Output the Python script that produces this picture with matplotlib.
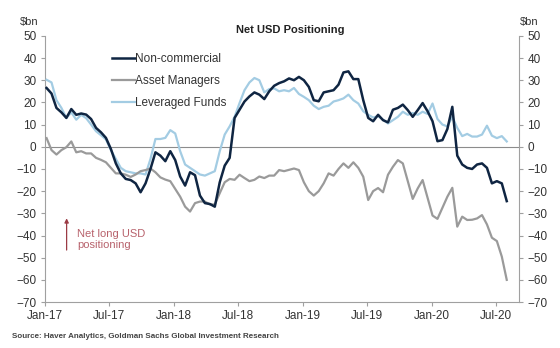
import matplotlib
matplotlib.use('Agg')
import matplotlib.pyplot as plt
import matplotlib.dates as mdates
import pandas as pd

plt.rcParams['font.family'] = ['Liberation Sans', 'DejaVu Sans']

# biweekly observations, Jan 2017 - Jul 2020 ($bn)
dates = pd.date_range('2017-01-06', periods=94, freq='14D')

non_commercial = [
    26.5, 24, 17.5, 15.5, 13, 17, 14.4, 15, 14.5, 12.5,
    8.5, 6.5, 4, -1, -7.5, -12, -14.5, -15, -16.5, -20.5,
    -16.5, -10, -2.5, -4, -6.5, -2, -6, -13.4, -17.5, -11.5,
    -12.8, -22, -25.4, -25.8, -27, -16, -8.5, -5, 13, 16.7,
    20.4, 22.7, 24.5, 23.5, 21.5, 25, 27.5, 28.7, 29.5, 30.8,
    30, 31.5, 30, 27, 21, 20.5, 24.5, 25, 25.5, 28,
    33.5, 34, 30.5, 30.5, 21, 13, 11.5, 14.4, 12, 11,
    16.7, 17.5, 19, 16.5, 13.5, 16.5, 19.7, 16, 11.5, 2.5,
    3, 8, 18, -4, -8, -9.5, -10, -8, -7.5, -9.5,
    -16.5, -15.5, -16.5, -24.5,
]

asset_managers = [
    3.9, -1.5, -3.5, -1.5, -0.2, 2.4, -2.5, -2, -3, -3,
    -5, -5.9, -7, -9.5, -12, -12, -12.6, -13.6, -12.5, -11,
    -10.5, -9.8, -11.5, -13.8, -14.8, -15.5, -19, -22.5, -27, -29.2,
    -25.4, -24.7, -24.7, -26, -26, -20.9, -16, -14.5, -14.9, -12.6,
    -14.1, -15.5, -14.9, -13.4, -14.1, -13, -13, -10.5, -11, -10.4,
    -9.8, -10.5, -16, -20, -22, -20, -16.5, -12, -13, -10,
    -7.5, -9.5, -7, -9.5, -13.5, -24, -20, -18.6, -20.5, -12.6,
    -9, -6, -7.5, -15.5, -23.5, -18.8, -15, -23, -31, -32.5,
    -27.5, -22.5, -18.5, -36, -31.5, -33, -32.9, -32.3, -30.8, -35,
    -41, -42.5, -49.5, -60,
]

leveraged_funds = [
    30.2, 29, 21, 17.5, 13, 15.5, 12.2, 14.4, 12.9, 10,
    7, 5.2, 3.3, -1.5, -5.5, -9.5, -11, -11.5, -12, -12,
    -12.5, -5.5, 3.5, 3.5, 4, 7.5, 6, -2, -8, -9.5,
    -11, -12.5, -13, -12, -11, -2, 5.5, 9.2, 13.5, 19.7,
    25.5, 29, 31, 30, 24.5, 26, 26.3, 25, 25.5, 25,
    26.5, 23.8, 22.5, 21, 18.5, 17, 18, 18.5, 20.4, 21,
    21.8, 23.5, 21, 19.5, 16, 14.4, 13.2, 13.8, 12.2, 10.5,
    12, 13.5, 15.8, 14.4, 15.2, 14.4, 15.8, 14.8, 19.5, 12.5,
    10, 9.2, 13.5, 8.5, 4.8, 5.8, 4.6, 4.6, 5.5, 9.5,
    5, 3.9, 4.8, 2.4,
]

fig = plt.figure(figsize=(5.6, 3.48), dpi=100)
ax = fig.add_axes([0.080, 0.132, 0.847, 0.765])

ax.plot(dates, leveraged_funds, color='#a3cce3', linewidth=1.6, label='Leveraged Funds', zorder=3)
ax.plot(dates, asset_managers, color='#9a9a9a', linewidth=1.6, label='Asset Managers', zorder=3)
ax.plot(dates, non_commercial, color='#0f2542', linewidth=1.8, label='Non-commercial', zorder=4)
ax.axhline(0, color='#8c8c8c', linewidth=0.8, zorder=1)

ax.set_xlim(pd.Timestamp('2017-01-01'), pd.Timestamp('2020-09-04'))
ax.set_ylim(-70, 50)
ax.set_yticks(range(-70, 51, 10))
ax.xaxis.set_major_locator(mdates.MonthLocator(bymonth=[1, 7]))
ax.xaxis.set_major_formatter(mdates.DateFormatter('%b-%y'))

ax.spines['top'].set_visible(False)
for s in ['left', 'right', 'bottom']:
    ax.spines[s].set_color('#a0a0a0')
    ax.spines[s].set_linewidth(0.8)

ax.tick_params(axis='both', labelsize=8.5, colors='#a0a0a0', labelcolor='#333333', length=3, width=0.8)
ax.tick_params(axis='y', right=True, labelright=True, pad=3)
ax.tick_params(axis='x', pad=3)

h, l = ax.get_legend_handles_labels()
order = [2, 1, 0]
ax.legend([h[i] for i in order], [l[i] for i in order], loc='upper left',
          bbox_to_anchor=(0.12, 0.975), frameon=False, fontsize=8.5,
          handlelength=1.95, handletextpad=0.0, labelspacing=0.85,
          labelcolor='#333333')

ax.annotate('', xy=(0.046, 0.325), xytext=(0.046, 0.185), xycoords='axes fraction',
            arrowprops=dict(arrowstyle='-|>', color='#9b3b45', lw=0.9, mutation_scale=6))
ax.text(0.068, 0.235, 'Net long USD\npositioning', transform=ax.transAxes,
        fontsize=8, color='#b8626c', va='center', ha='left', linespacing=1.1)

fig.text(0.518, 0.915, 'Net USD Positioning', ha='center', va='center',
         fontsize=8, fontweight='bold', color='#222222')
fig.text(0.036, 0.937, '\\$bn', ha='left', va='center', fontsize=8, color='#333333')
fig.text(0.928, 0.937, '\\$bn', ha='left', va='center', fontsize=8, color='#333333')
fig.text(0.021, 0.032, 'Source: Haver Analytics, Goldman Sachs Global Investment Research',
         ha='left', va='center', fontsize=5.8, fontweight='bold', color='#444444')

fig.savefig('out.png', dpi=100, facecolor='white')
